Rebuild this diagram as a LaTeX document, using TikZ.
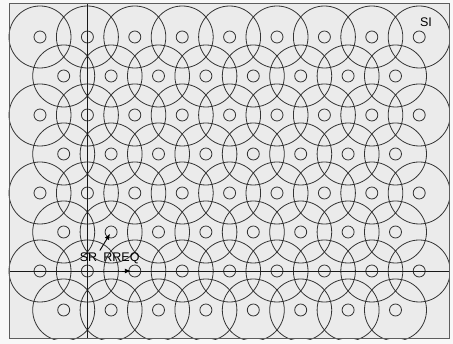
\documentclass[tikz,border=0pt]{standalone}
\usepackage{fontspec}
\setmainfont{Liberation Sans}
\usetikzlibrary{arrows.meta}
\definecolor{linegray}{HTML}{343434}
\definecolor{areagray}{HTML}{EBEBEB}
\definecolor{pagegray}{HTML}{F8F8F8}

\begin{document}
\begin{tikzpicture}[x=1pt, y=-1pt,
		area/.style={rectangle, draw=linegray!80, line width=1pt, minimum width=440pt, minimum height=335pt, inner sep=0pt},
		zone/.style={draw=linegray, line width=0.8pt},
		station/.style={circle, draw=linegray, line width=0.8pt, minimum size=12pt, inner sep=0pt},
		axis/.style={draw=black!90, line width=0.9pt},
		lbl/.style={inner sep=0pt, font=\fontsize{12.5}{15}\selectfont},
		line/.style={draw=black, -{Latex[length=6pt,width=5pt]}, line width=0.9pt}]
		
		\fill[pagegray] (0,0) rectangle (453,344);
		\useasboundingbox (0,0) rectangle (453,344);
		\node [area, fill=areagray] (field) at (229,171.5) {};
		
		% Zones de couverture
		\begin{scope}
			\clip (field.south west) rectangle (field.north east);
			\foreach \r in {1,3,5,7}
				\foreach \k in {1,...,9}
					\draw [zone] ({40+47.4*(\k-1)},{37+39*(\r-1)}) circle [radius=31pt];
			\foreach \r in {2,4,6,8}
				\foreach \k in {1,...,8}
					\draw [zone] ({63.7+47.4*(\k-1)},{37+39*(\r-1)}) circle [radius=31pt];
		\end{scope}
		
		% Noeuds
		\foreach \r in {1,3,5,7}
			\foreach \k in {1,...,9}
				\node [station] (c-\r-\k) at ({40+47.4*(\k-1)},{37+39*(\r-1)}) {};
		\foreach \r in {2,4,6,8}
			\foreach \k in {1,...,8}
				\node [station] (c-\r-\k) at ({63.7+47.4*(\k-1)},{37+39*(\r-1)}) {};
		
		% Axes
		\draw [axis] (c-7-2.center |- field.north) -- (c-7-2.center |- field.south);
		\draw [axis] (field.west |- c-7-2.center) -- (field.east |- c-7-2.center);
		\node [area] at (field.center) {};
		
		% Etiquettes
		\node [lbl] (sr) at (88.5,257) {SR};
		\node [lbl] (rreq) at (121.5,258) {RREQ};
		\node [lbl] (si) at (426,22) {SI};
		
		% Liens
		\path [line, shorten <=24pt, shorten >=2pt] (c-7-2.center) -- (c-6-2.center);
		\path [line, shorten <=35pt, shorten >=4pt] (c-7-2.center) -- (c-7-3.center);
		
	\end{tikzpicture}
\end{document}
